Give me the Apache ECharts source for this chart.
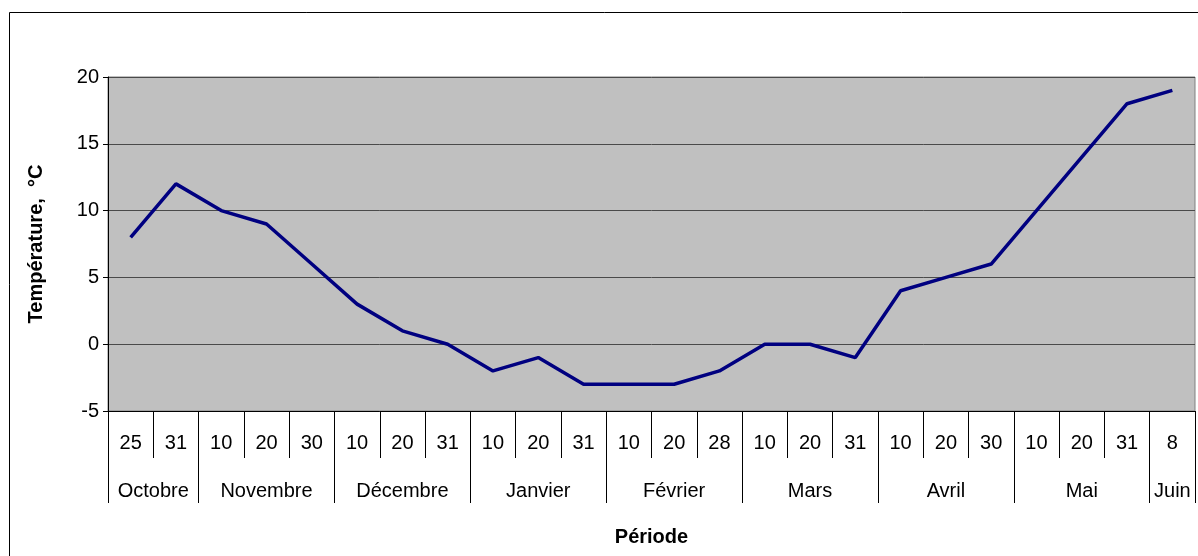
<!DOCTYPE html>
<html>
<head>
<meta charset="utf-8">
<script src="https://cdn.jsdelivr.net/npm/echarts@6/dist/echarts.min.js"></script>
<style>
html,body{margin:0;padding:0;background:#fff;}
#chart{width:1198px;height:556px;}
</style>
</head>
<body>
<div id="chart"></div>
<script>
var days = ['25','31','10','20','30','10','20','31','10','20','31','10','20','28','10','20','31','10','20','30','10','20','31','8'];
var months = ['Octobre','Novembre','Décembre','Janvier','Février','Mars','Avril','Mai','Juin'];
var monthSpans = [2,3,3,3,3,3,3,3,1];
var temperatures = [8,12,10,9,6,3,1,0,-2,-1,-3,-3,-3,-2,0,0,-1,4,5,6,10,14,18,19];
var yTicks = {min:-5, max:20, interval:5};

var boundaries = [0];
var mids = [];
var acc = 0;
monthSpans.forEach(function(s){ mids.push(acc + s/2); acc += s; boundaries.push(acc); });

var FONT = '"Liberation Sans", Arial, sans-serif';
var chart = echarts.init(document.getElementById('chart'));
chart.setOption({
  animation:false,
  backgroundColor:'#fff',
  graphic:[{type:'rect', shape:{x:9.5,y:12.5,width:1200,height:560}, style:{fill:'none',stroke:'#000',lineWidth:1}, silent:true}],
  grid:{left:108,right:3,top:77,bottom:145,show:true,backgroundColor:'#c0c0c0',borderColor:'#808080',borderWidth:1},
  xAxis:[{
    type:'category', data:days, boundaryGap:true,
    axisLine:{show:true,onZero:false,lineStyle:{color:'#000',width:1}},
    axisTick:{show:true,interval:0,length:47,lineStyle:{color:'#000'}},
    axisLabel:{interval:0,margin:22,color:'#000',fontSize:20,fontFamily:FONT},
    name:'Période', nameLocation:'middle', nameGap:116,
    nameTextStyle:{color:'#000',fontSize:20,fontWeight:'bold',fontFamily:FONT},
    splitLine:{show:false}
  },{
    type:'value', min:0, max:monthSpans.reduce(function(a,b){return a+b;},0), position:'bottom',
    axisLine:{show:false,onZero:false},
    axisTick:{show:true,customValues:boundaries,length:92,lineStyle:{color:'#000'}},
    axisLabel:{customValues:mids,margin:70,color:'#000',fontSize:20,fontFamily:FONT,
      formatter:function(v){ var i = mids.indexOf(v); return i>=0 ? months[i] : ''; }},
    splitLine:{show:false}
  }],
  yAxis:{
    type:'value', min:yTicks.min, max:yTicks.max, interval:yTicks.interval,
    axisLine:{show:true,lineStyle:{color:'#000'}},
    axisTick:{show:true,length:5,lineStyle:{color:'#000'}},
    axisLabel:{margin:9,color:'#000',fontSize:20,fontFamily:FONT},
    splitLine:{show:true,lineStyle:{color:'#4a4a4a',width:1}},
    name:'Température,  °C', nameLocation:'middle', nameGap:62, nameRotate:90,
    nameTextStyle:{color:'#000',fontSize:20,fontWeight:'bold',fontFamily:FONT}
  },
  series:[{
    type:'line', data:temperatures, xAxisIndex:0, yAxisIndex:0,
    showSymbol:false, symbol:'none',
    lineStyle:{color:'#000080',width:3.5}
  }]
});
</script>
</body>
</html>
